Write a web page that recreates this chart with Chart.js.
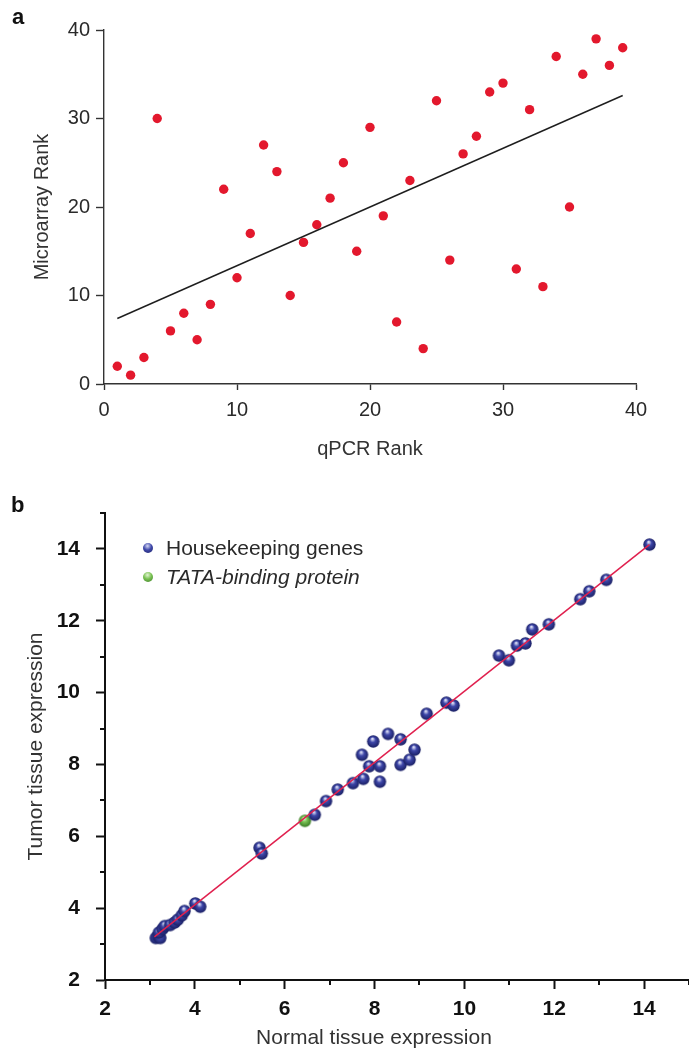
<!DOCTYPE html>
<html>
<head>
<meta charset="utf-8">
<script src="https://cdn.jsdelivr.net/npm/chart.js@4.4.1/dist/chart.umd.min.js"></script>
<style>
html,body{margin:0;padding:0;background:#fff;width:689px;height:1049px;overflow:hidden;font-family:"Liberation Sans",Arial,sans-serif;}
#wrapA{position:absolute;left:0;top:0;width:689px;height:470px;}
#wrapB{position:absolute;left:0;top:480px;width:689px;height:569px;overflow:hidden;}
canvas{display:block;}
.panel{position:absolute;font-weight:bold;font-size:22px;line-height:22px;color:#111;}
.leg{position:absolute;left:0;font-size:21px;line-height:24px;color:#2a2a2a;white-space:nowrap;}
.leg .dot{position:absolute;left:143px;top:7px;width:10px;height:10px;border-radius:50%;}
.leg span.t{position:absolute;left:166px;top:0;}
#xtitleB{position:absolute;top:1024px;left:0;width:748px;text-align:center;font-size:21px;line-height:26px;color:#333;}
</style>
</head>
<body>
<div id="wrapA"><canvas id="chartA" width="689" height="470"></canvas></div>
<div id="wrapB"><canvas id="chartB" width="696" height="569"></canvas></div>
<div class="panel" style="left:12px;top:6px;">a</div>
<div class="panel" style="left:11px;top:494px;">b</div>
<div class="leg" style="top:536px;"><div class="dot" style="background:radial-gradient(circle at 45% 30%,#d4d7f4 0%,#4049aa 45%,#1d2268 100%);"></div><span class="t">Housekeeping genes</span></div>
<div class="leg" style="top:565px;"><div class="dot" style="background:radial-gradient(circle at 45% 30%,#e2f4d2 0%,#79c152 45%,#3c7b27 100%);"></div><span class="t" style="font-style:italic;">TATA-binding protein</span></div>
<div id="xtitleB">Normal tissue expression</div>
<script>
// ---------- Panel a data ----------
const qpcrRank = [1,2,3,4,5,6,7,8,9,10,11,12,13,14,15,16,17,18,19,20,21,22,23,24,25,26,27,28,29,30,31,32,33,34,35,36,37,38,39];
const microarrayRank = [2,1,3,30,6,8,5,9,22,12,17,27,24,10,16,18,21,25,15,29,19,7,23,4,32,14,26,28,33,34,13,31,11,37,20,35,39,36,38];
const fitRankX = [1, 39];
const fitRankY = [7.4, 32.6];
const rankTicks = [0, 10, 20, 30, 40];

// ---------- Panel b data ----------
const normalExpr = [3.13,3.18,3.23,3.2,3.28,3.33,3.45,3.55,3.62,3.71,3.77,4.01,4.12,
  5.44,5.49,6.67,6.92,7.18,7.52,7.75,8.12,7.72,7.88,8.12,7.97,8.3,8.58,8.58,8.78,8.89,
  9.16,9.6,9.76,10.77,10.99,11.17,11.36,11.51,11.88,12.58,12.78,13.16,14.12];
const tumorExpr = [3.17,3.22,3.17,3.32,3.42,3.5,3.53,3.6,3.68,3.8,3.92,4.13,4.04,
  5.68,5.52,6.6,6.98,7.3,7.48,7.6,7.52,8.27,7.95,7.95,8.64,8.85,8.7,7.99,8.13,8.41,
  9.41,9.72,9.64,11.03,10.9,11.31,11.37,11.76,11.9,12.6,12.82,13.14,14.12];
const tbpNormal = [6.45];
const tbpTumor = [6.43];
const fitExprX = [3.1, 14.12];
const fitExprY = [3.2, 14.12];
const exprMajorTicks = [2, 4, 6, 8, 10, 12, 14];
const exprMinorTicks = [3, 5, 7, 9, 11, 13, 15];

const FONT = '"Liberation Sans", Arial, sans-serif';
const toXY = (xs, ys) => xs.map((x, i) => ({x: x, y: ys[i]}));

function sphere(r, light, base, dark) {
  const s = Math.ceil(r * 2 + 2);
  const c = document.createElement('canvas');
  c.width = s; c.height = s;
  const g = c.getContext('2d');
  const cx = s / 2;
  const grad = g.createRadialGradient(cx - r * 0.15, cx - r * 0.45, r * 0.08, cx, cx, r);
  grad.addColorStop(0, light);
  grad.addColorStop(0.4, base);
  grad.addColorStop(1, dark);
  g.fillStyle = grad;
  g.beginPath(); g.arc(cx, cx, r, 0, Math.PI * 2); g.fill();
  return c;
}
const blueBall = sphere(6.2, '#dfe2f8', '#3d46a8', '#1a1f64');
const greenBall = sphere(6.2, '#eaf7dc', '#7ac353', '#3a7a25');

// ---------- Chart a ----------
new Chart(document.getElementById('chartA'), {
  type: 'scatter',
  data: {
    datasets: [
      {
        data: toXY(fitRankX, fitRankY),
        showLine: true, borderColor: '#1e1e1e', borderWidth: 1.4,
        pointRadius: 0, order: 0
      },
      {
        data: toXY(qpcrRank, microarrayRank),
        pointRadius: 4.7, pointBackgroundColor: '#e3182d', pointBorderWidth: 0,
        order: 1
      }
    ]
  },
  options: {
    responsive: false, animation: false, devicePixelRatio: 1,
    layout: {padding: {left: 20, right: 53, top: 30, bottom: 0}},
    plugins: {legend: {display: false}, tooltip: {enabled: false}},
    scales: {
      x: {
        type: 'linear', min: 0, max: 40,
        afterBuildTicks: s => { s.ticks = rankTicks.map(v => ({value: v})); },
        afterFit: s => { s.height = 86; },
        grid: {drawOnChartArea: false, drawTicks: true, tickLength: 6, tickColor: '#333', tickWidth: 1.4},
        border: {display: true, color: '#333', width: 1.4},
        ticks: {color: '#2a2a2a', font: {family: FONT, size: 20}, padding: 8, maxRotation: 0},
        title: {display: true, text: 'qPCR Rank', color: '#333', font: {family: FONT, size: 20}, padding: {top: 0, bottom: 9}}
      },
      y: {
        type: 'linear', min: 0, max: 40,
        afterBuildTicks: s => { s.ticks = rankTicks.map(v => ({value: v})); },
        afterFit: s => { s.width = 84; },
        grid: {drawOnChartArea: false, drawTicks: true, tickLength: 8, tickColor: '#333', tickWidth: 1.4},
        border: {display: true, color: '#333', width: 1.4},
        ticks: {color: '#2a2a2a', font: {family: FONT, size: 20}, padding: 6},
        title: {display: true, text: 'Microarray Rank', color: '#333', font: {family: FONT, size: 20}, padding: {top: 10, bottom: 0}}
      }
    }
  }
});

// ---------- Chart b ----------
const minorTickPlugin = {
  id: 'minorTicks',
  afterDraw(chart) {
    const ctx = chart.ctx;
    const xs = chart.scales.x, ys = chart.scales.y;
    ctx.save();
    ctx.strokeStyle = '#111';
    ctx.lineWidth = 2;
    ctx.beginPath();
    exprMinorTicks.forEach(v => {
      const px = Math.round(xs.getPixelForValue(v));
      ctx.moveTo(px, xs.top); ctx.lineTo(px, xs.top + 5);
      const py = Math.round(ys.getPixelForValue(v));
      ctx.moveTo(ys.right - 5, py); ctx.lineTo(ys.right, py);
    });
    ctx.stroke();
    ctx.restore();
  }
};

new Chart(document.getElementById('chartB'), {
  type: 'scatter',
  data: {
    datasets: [
      {
        data: toXY(fitExprX, fitExprY),
        showLine: true, borderColor: '#e0204e', borderWidth: 1.5,
        pointRadius: 0, order: 0
      },
      {
        data: toXY(normalExpr, tumorExpr),
        pointStyle: blueBall, pointRadius: 6, order: 1
      },
      {
        data: toXY(tbpNormal, tbpTumor),
        pointStyle: greenBall, pointRadius: 6, order: 1
      }
    ]
  },
  options: {
    responsive: false, animation: false, devicePixelRatio: 1,
    layout: {padding: {left: 0, right: 0, top: 33, bottom: 0}},
    plugins: {legend: {display: false}, tooltip: {enabled: false}},
    scales: {
      x: {
        type: 'linear', min: 2, max: 15,
        afterBuildTicks: s => { s.ticks = exprMajorTicks.map(v => ({value: v})); },
        afterFit: s => { s.height = 69; },
        grid: {drawOnChartArea: false, drawTicks: true, tickLength: 9, tickColor: '#111', tickWidth: 2},
        border: {display: true, color: '#111', width: 2},
        ticks: {color: '#111', font: {family: FONT, size: 21, weight: 'bold'}, padding: 8, maxRotation: 0},
        title: {display: false}
      },
      y: {
        type: 'linear', min: 2, max: 15,
        afterBuildTicks: s => { s.ticks = exprMajorTicks.map(v => ({value: v})); },
        afterFit: s => { s.width = 105; },
        grid: {drawOnChartArea: false, drawTicks: true, tickLength: 9, tickColor: '#111', tickWidth: 2},
        border: {display: true, color: '#111', width: 2},
        ticks: {color: '#111', font: {family: FONT, size: 21, weight: 'bold'}, padding: 16},
        title: {display: true, text: 'Tumor tissue expression', color: '#333', font: {family: FONT, size: 21}, padding: {top: 24, bottom: 0}}
      }
    }
  },
  plugins: [minorTickPlugin]
});
</script>
</body>
</html>
